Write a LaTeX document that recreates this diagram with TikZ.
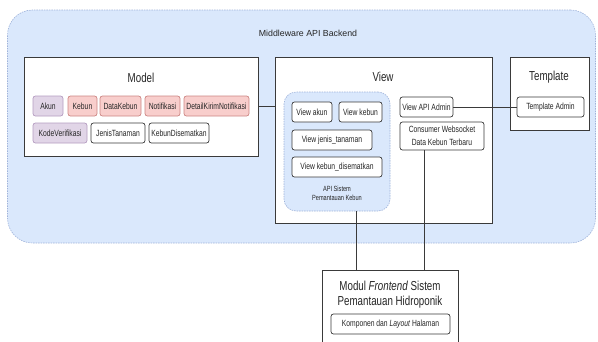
\documentclass[tikz,border=0pt]{standalone}
\usepackage{fontspec}
\setmainfont{Liberation Sans}[FakeStretch=0.75]
\newfontfamily\hptitlefont{Liberation Sans}
\usepackage{tikz}
\usetikzlibrary{positioning,calc}
\definecolor{hpblue}{HTML}{DAE8FC}
\definecolor{hpbluedash}{HTML}{9FB3DA}
\definecolor{hppurple}{HTML}{E1D5E7}
\definecolor{hppurpleline}{HTML}{9673A6}
\definecolor{hpred}{HTML}{F8CECC}
\definecolor{hpredline}{HTML}{B85450}
\definecolor{hpline}{HTML}{3A3A3A}
\tikzset{
  hp layer/.style={draw=hpbluedash,fill=hpblue,line width=0.6pt,
    dash pattern=on 1.5pt off 1pt,rounded corners=#1,inner sep=0pt},
  hp box/.style={draw=hpline,fill=white,line width=0.8pt,inner sep=0pt},
  hp chip/.style={draw=hpline,fill=white,line width=0.7pt,rounded corners=2.5pt,
    minimum height=20pt,inner sep=1pt,text=black!85,
    font=\fontsize{9pt}{11pt}\selectfont},
  hp purple/.style={hp chip,draw=hppurpleline!70,fill=hppurple},
  hp red/.style={hp chip,draw=hpredline!70,fill=hpred},
  hp heading/.style={font=\fontsize{13pt}{15pt}\selectfont,text=black!85},
  hp note/.style={font=\fontsize{7.5pt}{9pt}\selectfont,align=center,text=black!85},
  hp link/.style={draw=hpline,line width=0.8pt}
}
\begin{document}
\begin{tikzpicture}[x=1pt,y=-1pt]
  \useasboundingbox (0,0) rectangle (598,341);

  % Backend layer.
  \node[hp layer=25pt,minimum width=588pt,minimum height=233pt] (backend) at (301.5,126.5) {};
  \node[font=\hptitlefont\fontsize{8.8pt}{10pt}\selectfont,text=black!85]
    (backend-title) at (308,33) {Middleware API Backend};

  % Model.
  \node[hp box,minimum width=234pt,minimum height=99pt] (model) at (141,106.5) {};
  \node[hp heading] (model-title) at (141,78) {Model};
  \node[hp purple,minimum width=30pt] (akun) at (48,106) {Akun};
  \node[hp red,minimum width=29pt] (kebun) at (82.5,106) {Kebun};
  \node[hp red,minimum width=41pt] (datakebun) at (120.5,106) {DataKebun};
  \node[hp red,minimum width=35pt] (notifikasi) at (162.5,106) {Notifikasi};
  \node[hp red,minimum width=65pt] (detailkirim) at (216.5,106) {DetailKirimNotifikasi};
  \node[hp purple,minimum width=54pt] (kodeverifikasi) at (60,133) {KodeVerifikasi};
  \node[hp chip,minimum width=54pt] (jenistanaman) at (118,133) {JenisTanaman};
  \node[hp chip,minimum width=60pt] (kebundisematkan) at (179,133) {KebunDisematkan};

  % View.
  \node[hp box,minimum width=217pt,minimum height=166pt] (view) at (383.5,140) {};
  \node[hp heading] (view-title) at (383,77) {View};
  \node[hp layer=12pt,minimum width=106pt,minimum height=119pt] (api) at (337,151.5) {};
  \node[hp chip,minimum width=40pt] (view-akun) at (312,112) {View akun};
  \node[hp chip,minimum width=43pt] (view-kebun) at (360.5,112) {View kebun};
  \node[hp chip,minimum width=80pt] (view-jenis) at (332,140) {View jenis\_tanaman};
  \node[hp chip,minimum width=90pt] (view-disematkan) at (337,167) {View kebun\_disematkan};
  \node[hp note] (api-label) at (337,193) {API Sistem\\Pemantauan Kebun};
  \node[hp chip,minimum width=53pt] (view-admin) at (426.5,107) {View API Admin};
  \node[hp chip,minimum width=84pt,minimum height=28pt,align=center,
    font=\fontsize{9pt}{12.5pt}\selectfont] (consumer) at (442,136)
    {Consumer Websocket\\Data Kebun Terbaru};

  % Template.
  \node[hp box,minimum width=79pt,minimum height=73pt] (template) at (549.5,93.5) {};
  \node[hp heading] (template-title) at (549,77) {Template};
  \node[hp chip,minimum width=67pt] (template-admin) at (550.5,107) {Template Admin};

  % Frontend module.
  \node[hp box,minimum width=136pt,minimum height=76pt] (frontend) at (390,308) {};
  \node[hp heading,align=center,font=\fontsize{13pt}{15pt}\selectfont]
    (frontend-title) at (390,294.5) {Modul \textit{Frontend} Sistem\\Pemantauan Hidroponik};
  \node[hp chip,minimum width=119pt] (komponen) at (390.5,324)
    {Komponen dan \textit{Layout} Halaman};

  % Links.
  \draw[hp link] (model.east |- akun) -- (view.west |- akun);
  \draw[hp link] (view-admin.east) -- (template-admin.west);
  \draw[hp link] ([xshift=19pt]api.south) -- ([xshift=19pt]api.south |- frontend.north);
  \draw[hp link] ([xshift=-18pt]consumer.south) -- ([xshift=-18pt]consumer.south |- frontend.north);
\end{tikzpicture}
\end{document}
